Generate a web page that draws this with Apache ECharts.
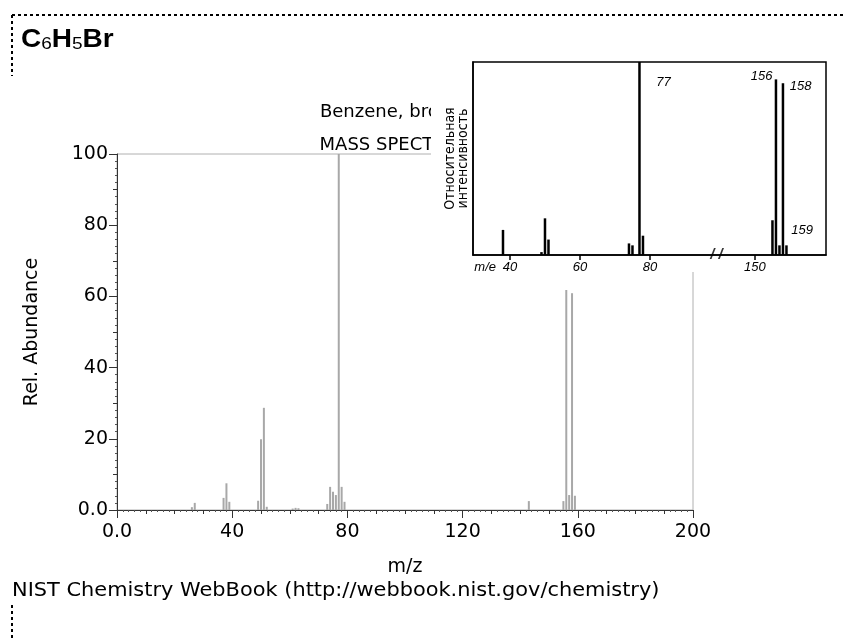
<!DOCTYPE html>
<html>
<head>
<meta charset="utf-8">
<script src="https://cdn.jsdelivr.net/npm/echarts@6/dist/echarts.min.js"></script>
<style>
  html, body { margin: 0; padding: 0; background: #fff; }
  #chart { width: 846px; height: 641px; }
</style>
</head>
<body>
<div id="chart"></div>
<script>
// NIST spectrum (m/z, relative abundance)
const mzValues = [26, 27, 37, 38, 39, 49, 50, 51, 52, 61, 62, 63, 73, 74, 75, 76, 77, 78, 79, 143, 155, 156, 157, 158, 159];
const abundance = [0.8, 2.0, 3.4, 7.5, 2.3, 2.6, 19.9, 28.7, 0.9, 0.4, 0.6, 0.5, 1.7, 6.5, 5.1, 4.2, 100, 6.5, 2.3, 2.5, 2.5, 61.8, 4.2, 60.9, 4.0];

// scanned inset spectrum (m/e, intensity in %)
const insetMz = [38, 49, 50, 51, 74, 75, 77, 78, 155, 156, 157, 158, 159];
const insetIntensity = [13, 1.5, 19, 8, 6, 5, 100, 10, 18, 91, 5, 89, 5];
const insetTickMz = [40, 60, 80, 150];
const insetLabelled = [77, 156, 158, 159];

const xTickLabels = [0, 40, 80, 120, 160, 200];
const yTickLabels = [0, 20, 40, 60, 80, 100];

// inset axis is broken between 80 and 150
const insetPos = m => (m <= 100 ? m : m - 40);
const labelOffset = { 77: [18, 14], 156: [-24, -9], 158: [8, -3], 159: [6, -21] };

const chart = echarts.init(document.getElementById('chart'));
const font = 'DejaVu Sans';
const fmt0 = v => (v === 0 ? '0.0' : String(v));

const option = {
  animation: false,
  backgroundColor: '#fff',
  textStyle: { fontFamily: font },
  grid: [
    { left: 117, right: 153, top: 154, bottom: 131, show: true, borderColor: '#b0b0b0', borderWidth: 1 },
    { left: 473, right: 20, top: 62, bottom: 386, show: true, z: 9,
      borderColor: '#000', borderWidth: 1.5, backgroundColor: '#fff' }
  ],
  xAxis: [
    { type: 'value', gridIndex: 0, min: 0, max: 200, interval: 10,
      axisLine: { lineStyle: { color: '#333' } },
      axisTick: { length: 4, lineStyle: { color: '#333' } },
      minorTick: { show: true, splitNumber: 5, length: 2, lineStyle: { color: '#555' } },
      axisLabel: { show: false }, splitLine: { show: false },
      name: 'm/z', nameLocation: 'middle', nameGap: 48,
      nameTextStyle: { fontSize: 19, color: '#000', fontFamily: font } },
    { type: 'value', gridIndex: 0, min: 0, max: 200, interval: 40, position: 'bottom',
      axisLine: { show: false },
      axisTick: { length: 8, lineStyle: { color: '#333' } },
      axisLabel: { fontSize: 19, color: '#000', margin: 13, fontFamily: font,
        formatter: v => (xTickLabels.includes(v) ? fmt0(v) : '') },
      splitLine: { show: false } },
    { type: 'value', gridIndex: 1, min: 29.43, max: 130.3, z: 9,
      axisLine: { lineStyle: { color: '#000', width: 1.5 } },
      axisTick: { customValues: insetTickMz.map(insetPos), length: 5, lineStyle: { color: '#000', width: 1.5 } },
      axisLabel: { customValues: [32.9].concat(insetTickMz.map(insetPos)), margin: 6,
        fontSize: 13, fontStyle: 'italic', fontFamily: 'Liberation Sans', color: '#000',
        formatter: v => (v < 35 ? 'm/e' : String(v > 100 ? v + 40 : v)) },
      splitLine: { show: false } }
  ],
  yAxis: [
    { type: 'value', gridIndex: 0, min: 0, max: 100, interval: 10,
      axisLine: { show: true, lineStyle: { color: '#333' } },
      axisTick: { show: true, length: 4, lineStyle: { color: '#333' } },
      minorTick: { show: true, splitNumber: 5, length: 2, lineStyle: { color: '#555' } },
      axisLabel: { show: false }, splitLine: { show: false },
      name: 'Rel. Abundance', nameLocation: 'middle', nameGap: 75, nameRotate: 90,
      nameTextStyle: { fontSize: 19, color: '#000', fontFamily: font } },
    { type: 'value', gridIndex: 0, min: 0, max: 100, interval: 20, position: 'left',
      axisLine: { show: false },
      axisTick: { show: true, length: 8, lineStyle: { color: '#333' } },
      axisLabel: { fontSize: 19, color: '#000', margin: 9, fontFamily: font,
        formatter: v => (yTickLabels.includes(v) ? fmt0(v) : '') },
      splitLine: { show: false } },
    { type: 'value', gridIndex: 1, min: 0, max: 100, z: 9,
      axisLine: { show: true, lineStyle: { color: '#000', width: 1.5 } },
      axisTick: { show: false }, axisLabel: { show: false }, splitLine: { show: false },
      name: 'Относительная\nинтенсивность', nameLocation: 'middle', nameRotate: 90, nameGap: 3,
      nameTextStyle: { fontSize: 14, color: '#000', fontFamily: 'DejaVu Sans Condensed', lineHeight: 13 } }
  ],
  graphic: [
    { type: 'line', z: 1, shape: { x1: 12, y1: 15, x2: 846, y2: 15 },
      style: { stroke: '#000', lineWidth: 2, lineDash: [3, 3] } },
    { type: 'line', z: 1, shape: { x1: 12, y1: 15, x2: 12, y2: 76 },
      style: { stroke: '#000', lineWidth: 2, lineDash: [3, 3] } },
    { type: 'line', z: 1, shape: { x1: 12, y1: 605, x2: 12, y2: 641 },
      style: { stroke: '#000', lineWidth: 2, lineDash: [3, 3] } },
    { type: 'text', z: 1, x: 21, y: 25, scaleX: 1.12,
      style: { text: '{a|C}{s|6}{a|H}{s|5}{a|Br}', fill: '#000',
        rich: { a: { fontSize: 25, fontWeight: 'bold', fontFamily: 'Liberation Sans', verticalAlign: 'bottom' },
                s: { fontSize: 17, fontFamily: 'Liberation Sans', padding: [11, 0, 0, 0] } } } },
    { type: 'text', z: 1, x: 397, y: 96,
      style: { text: 'Benzene, bromo-\nMASS SPECTRUM', fill: '#000', align: 'center',
        fontSize: 18, fontFamily: font, lineHeight: 33 } },
    { type: 'text', z: 1, x: 12, y: 582, scaleX: 1.1,
      style: { text: 'NIST Chemistry WebBook (http://webbook.nist.gov/chemistry)', fill: '#000',
        fontSize: 19, fontFamily: font } },
    { type: 'rect', z: 8, shape: { x: 431, y: 54, width: 415, height: 218 }, style: { fill: '#fff' } }
  ],
  series: [
    { type: 'bar', xAxisIndex: 0, yAxisIndex: 0, barWidth: 2, z: 2,
      itemStyle: { color: '#a8a8a8' },
      data: mzValues.map((m, i) => [m, abundance[i]]) },
    { type: 'bar', xAxisIndex: 2, yAxisIndex: 2, barWidth: 2.5, z: 10,
      itemStyle: { color: '#000' },
      data: insetMz.map((m, i) => {
        const item = { value: [insetPos(m), insetIntensity[i]] };
        if (insetLabelled.includes(m)) {
          item.label = { show: true, position: labelOffset[m], formatter: String(m),
            fontSize: 13, fontStyle: 'italic', fontFamily: 'Liberation Sans', color: '#000' };
        }
        return item;
      }) },
    { type: 'scatter', xAxisIndex: 2, yAxisIndex: 2, z: 11, symbolSize: 1,
      itemStyle: { color: 'rgba(0,0,0,0)' },
      label: { show: true, position: 'inside', formatter: '/ /', fontSize: 15, fontStyle: 'italic',
        fontWeight: 'bold', color: '#000', fontFamily: 'Liberation Sans' },
      data: [[99, 0]] }
  ]
};

chart.setOption(option);
</script>
</body>
</html>
